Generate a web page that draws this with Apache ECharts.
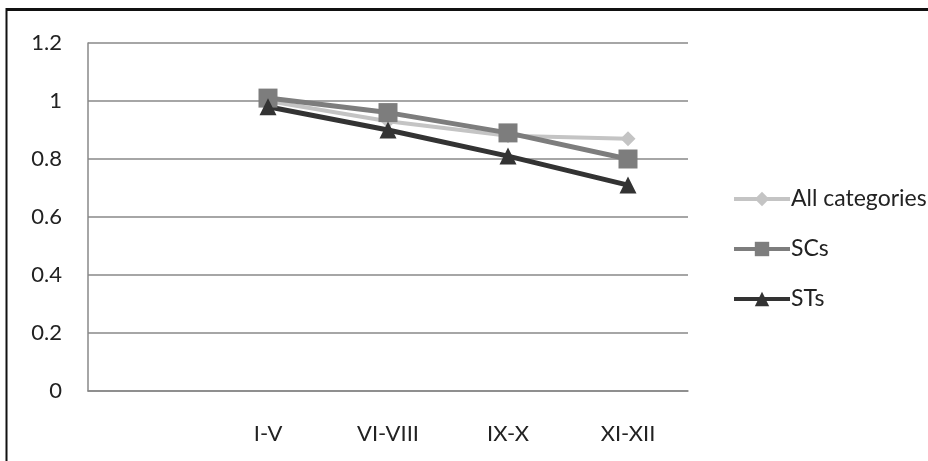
<!DOCTYPE html>
<html>
<head>
<meta charset="utf-8">
<script src="https://cdn.jsdelivr.net/npm/echarts@6/dist/echarts.min.js"></script>
<style>
  html, body { margin: 0; padding: 0; background: #fff; }
  #chart { width: 928px; height: 461px; }
</style>
</head>
<body>
<div id="chart"></div>
<script>
// Class groups (first slot left empty, as in the original layout)
const categories = ['', 'I-V', 'VI-VIII', 'IX-X', 'XI-XII'];
const allCategories = [null, 1.00, 0.93, 0.88, 0.87];
const scs = [null, 1.01, 0.96, 0.89, 0.80];
const sts = [null, 0.98, 0.90, 0.81, 0.71];
const yTicks = { min: 0, max: 1.2, interval: 0.2 };

const font = 'Lato, "Open Sans", sans-serif';
const chart = echarts.init(document.getElementById('chart'));

function lineSeries(name, data, color, symbol, size, width) {
  return {
    name, type: 'line', data,
    symbol, symbolSize: size,
    showAllSymbol: true,
    itemStyle: { color },
    lineStyle: { color, width },
    emphasis: { disabled: true },
    animation: false
  };
}

chart.setOption({
  animation: false,
  grid: { left: 88, right: 240, top: 43, bottom: 70 },
  graphic: [
    { type: 'line', shape: { x1: 6, y1: 9.5, x2: 928, y2: 9.5 }, style: { stroke: '#111', lineWidth: 3 } },
    { type: 'line', shape: { x1: 6.5, y1: 8, x2: 6.5, y2: 461 }, style: { stroke: '#111', lineWidth: 2 } }
  ],
  legend: {
    orient: 'vertical',
    left: 727, top: 182,
    itemGap: 26,
    itemWidth: 56, itemHeight: 18,
    lineStyle: { width: 4 },
    textStyle: { fontFamily: font, fontSize: 23, lineHeight: 24, color: '#222', padding: [0, 0, 0, -4] },
    data: ['All categories', 'SCs', 'STs']
  },
  xAxis: {
    type: 'category',
    data: categories,
    boundaryGap: true,
    axisLine: { show: true, lineStyle: { color: '#888', width: 1.5 } },
    axisTick: { show: false },
    axisLabel: { fontFamily: font, fontSize: 22, color: '#222', margin: 32, interval: 0 }
  },
  yAxis: {
    type: 'value',
    min: yTicks.min, max: yTicks.max, interval: yTicks.interval,
    axisLine: { show: true, lineStyle: { color: '#888', width: 1.5 } },
    axisTick: { show: false },
    splitLine: { lineStyle: { color: '#888', width: 1.5 } },
    axisLabel: { fontFamily: font, fontSize: 22, color: '#222', margin: 26,
      formatter: v => String(Math.round(v * 10) / 10) }
  },
  series: [
    lineSeries('All categories', allCategories, '#c4c4c4', 'diamond', 15, 4),
    lineSeries('SCs', scs, '#7d7d7d', 'rect', 19, 5),
    lineSeries('STs', sts, '#333333', 'triangle', 17, 5)
  ]
});
</script>
</body>
</html>
